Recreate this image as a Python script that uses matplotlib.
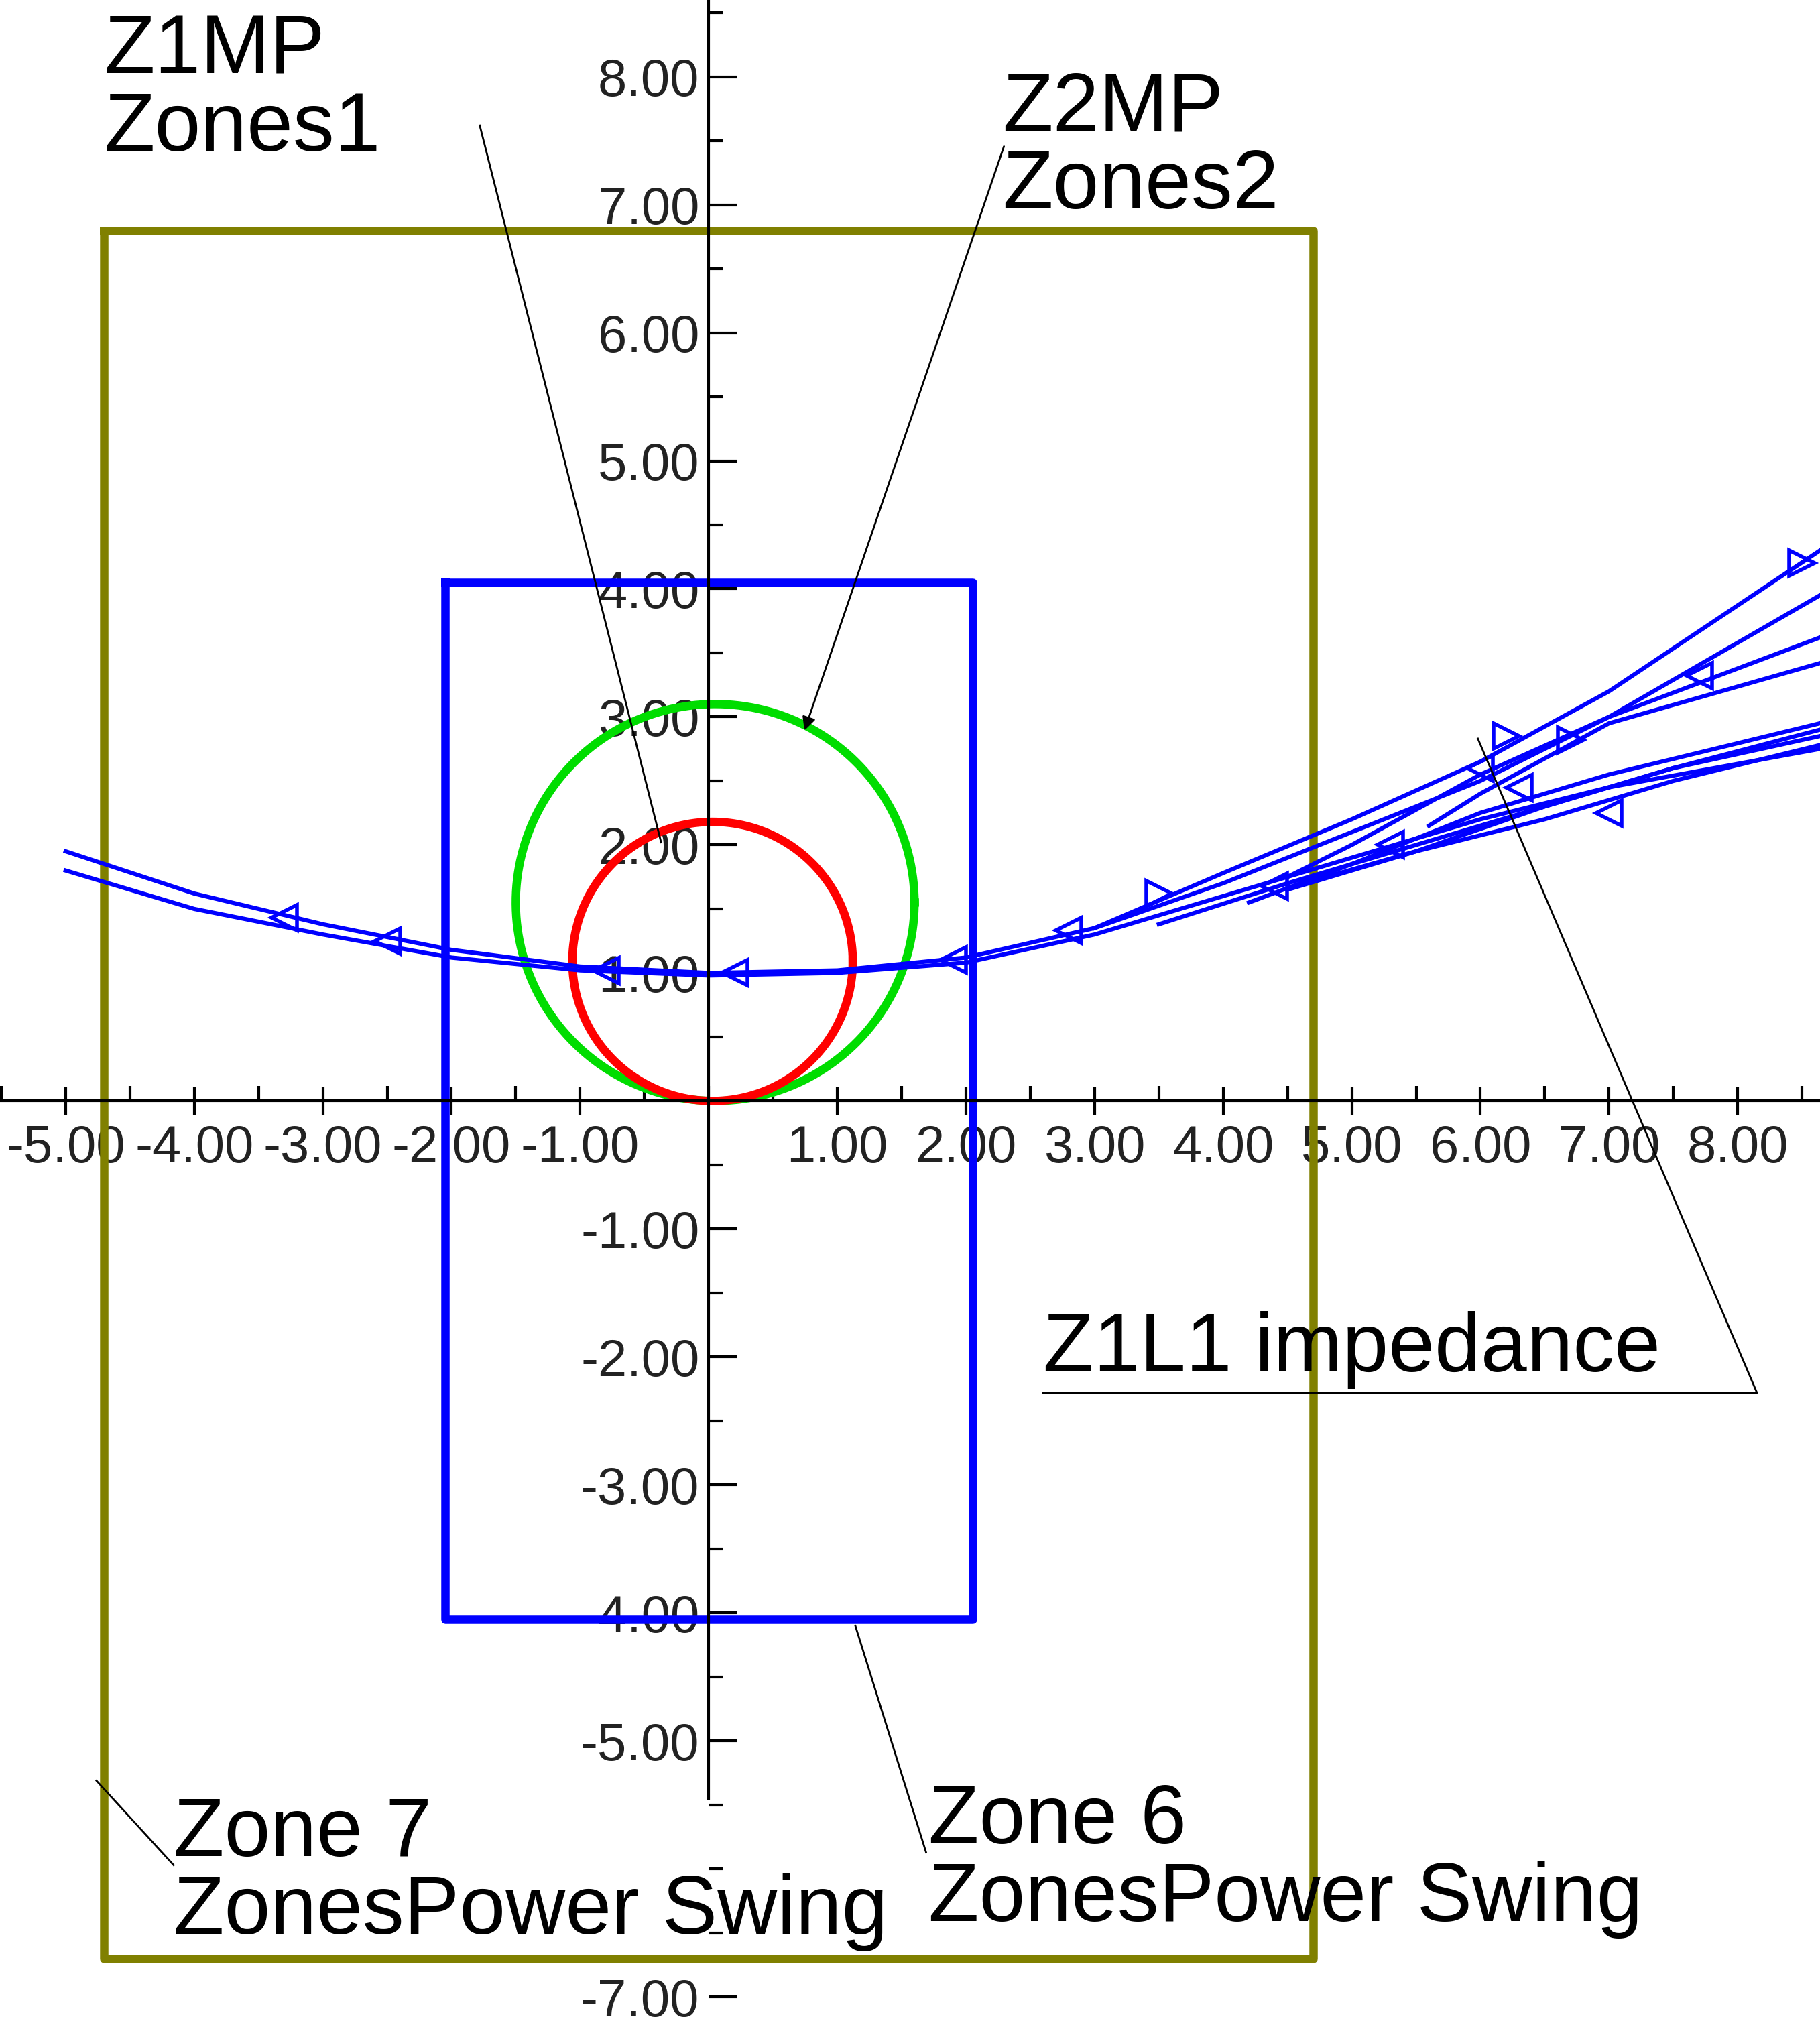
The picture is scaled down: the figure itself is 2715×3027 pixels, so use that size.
import numpy as np
import matplotlib
matplotlib.use("Agg")
import matplotlib.pyplot as plt
from matplotlib.ticker import MultipleLocator, FuncFormatter

plt.rcParams['font.family'] = ['Liberation Sans', 'DejaVu Sans']

# Zones
zone7 = dict(x0=-4.7, x1=4.7, y0=-6.7, y1=6.8)
zone6 = dict(x0=-2.05, x1=2.05, y0=-4.05, y1=4.05)
z2_circle = dict(cx=0.05, cy=1.55, r=1.55)
z1_circle = dict(cx=0.03, cy=1.09, r=1.09)

# impedance trajectory branches (R, X)
branch_x = [
    [-5.0, -4.0, -3.0, -2.0, -1.0, 0.0, 1.0, 2.0, 3.0, 4.0, 5.0, 6.0, 7.0, 8.64],
    [-5.0, -4.0, -3.0, -2.0, -1.0, 0.0, 1.0, 2.0, 3.0, 4.0, 5.0, 6.0, 7.0, 8.64],
    [3.0, 4.0, 5.0, 6.0, 7.0, 8.64],
    [4.5, 5.0, 6.0, 7.0, 8.64],
    [5.6, 6.0, 7.0, 8.64],
    [3.5, 4.5, 5.5, 6.5, 7.5, 8.64],
    [4.2, 5.0, 6.0, 7.0, 8.64],
    [4.8, 5.5, 6.5, 7.5, 8.64],
    [4.5, 5.5, 6.5, 7.5, 8.64],
]
branch_y = [
    [1.95, 1.62, 1.38, 1.18, 1.05, 1.0, 1.02, 1.12, 1.35, 1.78, 2.2, 2.65, 3.2, 4.3],
    [1.8, 1.5, 1.3, 1.12, 1.02, 0.98, 1.0, 1.08, 1.3, 1.6, 1.9, 2.2, 2.45, 2.75],
    [1.35, 1.7, 2.1, 2.5, 3.0, 3.95],
    [1.75, 2.0, 2.55, 3.0, 3.62],
    [2.15, 2.4, 2.95, 3.42],
    [1.38, 1.7, 2.0, 2.3, 2.6, 2.9],
    [1.55, 1.85, 2.25, 2.55, 2.95],
    [1.75, 1.95, 2.3, 2.6, 2.85],
    [1.65, 1.95, 2.2, 2.5, 2.78],
]
arrow_x = [-3.3, -2.5, -0.8, 0.2, 1.9, 2.8, 3.5, 6.2, 6.7, 7.7, 8.5, 4.4, 6.3, 7.0, 5.3, 6.0]
arrow_y = [1.43, 1.25, 1.02, 1.0, 1.1, 1.33, 1.62, 2.85, 2.82, 3.32, 4.2, 1.68, 2.45, 2.25, 2.0, 2.6]
arrow_m = ['<', '<', '<', '<', '<', '<', '>', '>', '>', '<', '>', '<', '<', '<', '<', '<']

xticks = [-5, -4, -3, -2, -1, 1, 2, 3, 4, 5, 6, 7, 8]
yticks = [-7, -5, -4, -3, -2, -1, 1, 2, 3, 4, 5, 6, 7, 8]

fig = plt.figure(figsize=(27.15, 30.27), dpi=100)
ax = fig.add_axes([0, 0, 1, 1])
ax.set_xlim(-5.51, 8.64)
ax.set_ylim(-7.25, 8.6)

olive = '#808000'
ax.plot([zone7['x0'], zone7['x1'], zone7['x1'], zone7['x0'], zone7['x0']],
        [zone7['y1'], zone7['y1'], zone7['y0'], zone7['y0'], zone7['y1']], color=olive, lw=9)
ax.plot([zone6['x0'], zone6['x1'], zone6['x1'], zone6['x0'], zone6['x0']],
        [zone6['y1'], zone6['y1'], zone6['y0'], zone6['y0'], zone6['y1']], color='#0000ff', lw=9)
t = np.linspace(0, 2*np.pi, 400)
ax.plot(z2_circle['cx'] + z2_circle['r']*np.cos(t), z2_circle['cy'] + z2_circle['r']*np.sin(t), color='#00dd00', lw=9)
ax.plot(z1_circle['cx'] + z1_circle['r']*np.cos(t), z1_circle['cy'] + z1_circle['r']*np.sin(t), color='#ff0000', lw=9)

for bx, by in zip(branch_x, branch_y):
    ax.plot(bx, by, color='#0000ff', lw=4.5)
for x, y, m in zip(arrow_x, arrow_y, arrow_m):
    ax.plot([x], [y], marker=m, ms=28, mfc='none', mec='#0000ff', mew=4)

for s in ['top', 'right']:
    ax.spines[s].set_visible(False)
ax.spines['left'].set_position(('data', 0))
ax.spines['bottom'].set_position(('data', 0))
ax.spines['left'].set_linewidth(3)
ax.spines['bottom'].set_linewidth(3)
ax.spines['left'].set_bounds(-5.45, 8.6)
ax.set_xticks(xticks)
ax.set_yticks(yticks)
ax.xaxis.set_minor_locator(MultipleLocator(0.5))
ax.yaxis.set_minor_locator(MultipleLocator(0.5))
fmt = FuncFormatter(lambda v, p: f"{v:.2f}")
ax.xaxis.set_major_formatter(fmt)
ax.yaxis.set_major_formatter(fmt)
ax.tick_params(which='major', direction='in', length=30, width=3, labelsize=56, pad=10)
ax.tick_params(axis='x', which='major', direction='inout', length=30)
ax.tick_params(which='minor', direction='in', length=16, width=3)
for lab in ax.get_xticklabels() + ax.get_yticklabels():
    lab.set_color('#222222')

fs = 89
ax.text(-4.7, 8.5, "Z1MP\nZones1", fontsize=fs, va='top', ha='left', linespacing=1.0)
ax.plot([-1.78, -0.37], [7.62, 2.02], color='black', lw=2)
ax.text(2.28, 8.05, "Z2MP\nZones2", fontsize=fs, va='top', ha='left', linespacing=1.0)
ax.annotate("", xy=(0.74, 2.88), xytext=(2.3, 7.47),
            arrowprops=dict(arrowstyle='-|>', color='black', lw=2, mutation_scale=30))
ax.text(2.6, -2.25, "Z1L1 impedance", fontsize=fs, va='bottom', ha='left')
ax.plot([2.6, 8.15, 5.98], [-2.28, -2.28, 2.83], color='black', lw=2)
ax.text(1.71, -5.33, "Zone 6\nZonesPower Swing", fontsize=fs, va='top', ha='left', linespacing=1.0)
ax.plot([1.69, 1.14], [-5.87, -4.1], color='black', lw=2)
ax.text(-4.16, -5.43, "Zone 7\nZonesPower Swing", fontsize=fs, va='top', ha='left', linespacing=1.0)
ax.plot([-4.16, -4.76], [-5.97, -5.31], color='black', lw=2)

fig.savefig("out.png", dpi=100, facecolor='white')
